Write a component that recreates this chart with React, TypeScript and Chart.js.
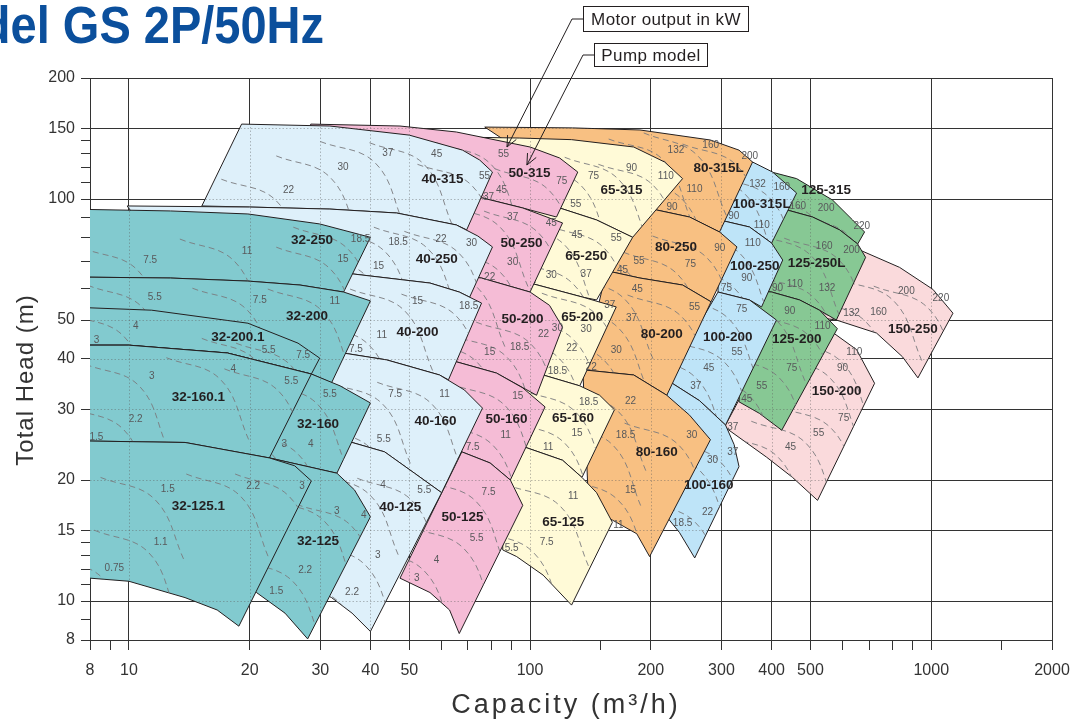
import React, { useEffect, useRef } from 'react';
import { Chart, registerables } from 'chart.js';
Chart.register(...registerables);

type P = [number, number];
type T = [number, number, string];
const FONT = "'Liberation Sans', Arial, Helvetica, sans-serif";

// ---------- axes ----------
const xTickVals = [8, 9, 10, 20, 30, 40, 50, 60, 70, 80, 90, 100, 150, 200, 300, 400, 500, 600, 700, 800, 900, 1000, 1500, 2000];
const xLabelVals = [8, 10, 20, 30, 40, 50, 100, 200, 300, 400, 500, 1000, 2000];
const xGridVals = [10, 20, 30, 40, 50, 100, 200, 300, 400, 500, 1000, 2000];
const yTickVals = [8, 9, 10, 11, 12, 13, 14, 15, 20, 30, 40, 50, 60, 70, 80, 90, 100, 110, 120, 130, 140, 150, 200];
const yLabelVals = [8, 10, 15, 20, 30, 40, 50, 100, 150, 200];

// ---------- colours ----------
const C32 = '#82cacf', C40 = '#def0fa', C50 = '#f5bcd6', C65 = '#fffad7';
const C80 = '#f8c082', C100 = '#bee4f8', C125 = '#87c894', C150 = '#fadadc';

// ---------- pump regions (capacity m3/h, head m) ----------
const r32_250: P[] = [[7,94.4],[12.7,93.4],[19.8,91.8],[29.9,86.7],[40,80.3],[34.3,58.7],[26.7,61.1],[19.8,62.5],[12.7,63.6],[7,64]];
const r32_200: P[] = [[7,64],[12.7,63.6],[19.8,62.5],[26.7,61.1],[34.3,58.7],[40,55.8],[32,34.9],[28.5,36.7],[17.6,41.4],[10,43.3],[7,43.3]];
const r32_200_1: P[] = [[7,53.9],[11.4,52.9],[19.8,49.1],[26.4,43.8],[29.9,40.2],[28.5,36.7],[17.6,41.4],[10,43.3],[7,43.3]];
const r32_160: P[] = [[7,43.3],[10,43.3],[17.6,41.4],[28.5,36.7],[33.6,34.3],[40,31.1],[33,20.8],[22.4,22.7],[15,25],[8,25.3],[7,25.3]];
const r32_160_1: P[] = [[7,43.3],[10,43.3],[17.6,41.4],[28.5,36.7],[22.4,22.7],[13.8,24.8],[8,25],[7,25]];
const r32_125: P[] = [[12,24],[22.4,22.7],[33,20.8],[36.5,18.9],[40,16.2],[27.9,8.05],[24.5,9.33],[20.8,10.5],[16.9,11]];
const r32_125_1: P[] = [[7,25],[8,25],[13.8,24.8],[22.4,22.7],[25.9,21.7],[28.5,19.9],[18.8,8.66],[16.6,9.5],[13.8,10.2],[10,11.2],[8,11.4],[7,11.4]];

const r40_315: P[] = [[19.1,153.6],[31.7,151.9],[50,144.2],[67.9,132.3],[74.9,125],[80.6,116.7],[69.5,83.8],[65.5,86.2],[46.5,92.3],[31.7,94.4],[20,95.5],[15.2,96.1]];
const r40_250: P[] = [[9.9,96.1],[20,95.5],[31.7,94.4],[46.5,92.3],[65.5,86.2],[74.1,80.9],[80.6,76],[70.7,57],[66.6,58.7],[56.3,61.8],[36.2,65.1],[20,67.4],[12.7,68.5]];
const r40_200: P[] = [[12.7,68.5],[20,67.4],[36.2,65.1],[56.3,61.8],[66.6,58.7],[75.7,55.1],[62.6,35.5],[59.5,36.5],[43.9,39.8],[34.2,41.4],[26.7,42.2],[12.7,43]];
const r40_160: P[] = [[26.7,42.2],[34.2,41.4],[43.9,39.8],[59.5,36.5],[68.6,33.5],[76.1,30.2],[60.2,18.6],[51.5,20.8],[43.4,23.5],[36,24.8],[26.7,26.4]];
const r40_125: P[] = [[26.7,26.4],[36,24.8],[43.4,23.5],[51.5,20.8],[60.2,18.6],[40,8.4],[36,9.33],[32,10.2],[26.7,11.2]];

const r50_315: P[] = [[28.4,153.6],[47.4,151.9],[65.5,146.8],[100,134.7],[118.5,126.5],[131.5,116.7],[116.4,90.2],[95.9,95],[76.1,100.6],[56.3,102.9],[26.7,105.3]];
const r50_250: P[] = [[56.3,102.9],[76.1,100.6],[95.9,95],[120.5,87.2],[100,58.7],[75.7,63.6],[56.3,66.3]];
const r50_200: P[] = [[56.3,66.3],[75.7,63.6],[100,58.7],[111.8,54.4],[120.5,48],[103.8,32.5],[82.5,36.9],[63,39.8],[53,40.7]];
const r50_160: P[] = [[53,40.7],[63,39.8],[82.5,36.9],[95.9,33.9],[109,30.4],[89.3,20],[79.5,22.05],[67.6,23.5],[56.3,24.5]];
const r50_125: P[] = [[67.6,23.5],[79.5,22.05],[89.3,20],[95.9,17.3],[66.6,8.3],[63,9.5],[56.3,10.5],[47.4,11.4]];

const r65_315: P[] = [[66.6,142.6],[94.3,141.8],[126.9,140.5],[181.3,134.7],[216.5,123.6],[240,112.4],[180.2,80.3],[146.5,88.7],[118.5,95],[84.8,100.6]];
const r65_250: P[] = [[84.8,100.6],[118.5,95],[146.5,88.7],[180.2,80.3],[146.5,56.1],[135.4,57],[100,61.8],[79.5,64]];
const r65_200: P[] = [[79.5,64],[100,61.8],[135.4,57],[164,53.9],[133,34.3],[107.8,36.5],[84.8,38.7]];
const r65_160: P[] = [[84.8,38.7],[107.8,36.5],[133,34.3],[149.1,32.5],[162.3,29.9],[134.7,20.3],[120.5,22.4],[97.6,24.1],[92,24.3]];
const r65_125: P[] = [[85,25],[97.6,24.1],[120.5,22.4],[134.7,20.3],[146.5,18.6],[160.4,15.7],[126.9,9.77],[107.8,11.6],[92.6,12.9],[85.5,13.4]];

const r80_315L: P[] = [[77.1,151],[127.7,150.3],[187.9,148.5],[281.6,140.2],[331.8,132.3],[358.6,123.6],[296.7,82.8],[249.8,90.2],[206.9,93.9],[149.1,97.7]];
const r80_250: P[] = [[149.1,97.7],[206.9,93.9],[249.8,90.2],[296.7,82.8],[327.9,76],[282.6,55.5],[240,61.1],[187.9,63.6],[155.2,66.3]];
const r80_200: P[] = [[155.2,66.3],[187.9,63.6],[240,61.1],[282.6,55.5],[219.2,32.5],[181.3,36.5],[135.4,37.6]];
const r80_160: P[] = [[135.4,37.6],[181.3,36.5],[219.2,32.5],[249.8,29],[281.6,25.2],[198.6,12.9],[184.5,14.7],[160.4,15.9],[140,17]];

const r100_315L: P[] = [[264.6,133.9],[358.6,123.6],[402.3,116.7],[461.7,103.5],[400,77.7],[352.4,85.2],[296.7,88.7]];
const r100_250: P[] = [[296.7,88.7],[352.4,85.2],[400,77.7],[426.4,70.5],[377.6,53.9],[352.4,56.1],[294.1,58.7]];
const r100_200: P[] = [[294.1,58.7],[352.4,56.1],[411.3,50],[307.1,27.4],[264.6,31.5],[219.2,35.5]];
const r100_160: P[] = [[219.2,35.5],[264.6,31.5],[307.1,27.4],[322.6,24.5],[331.8,21.6],[257.3,12.8],[235.8,14.8],[219.2,16.2]];

const r125_315: P[] = [[400,116.7],[461.7,112.4],[567.7,99.4],[636.8,88.7],[682.1,82.8],[655.7,77.3],[591.1,83.8],[506.1,90.2],[437.5,93.9],[372.9,96.6]];
const r125_250L: P[] = [[372.9,96.6],[437.5,93.9],[506.1,90.2],[591.1,83.8],[655.7,77.3],[686.2,71.6],[580,50],[526.7,52.9],[469.8,56.1],[400,58.7],[342,59.6]];
const r125_200: P[] = [[342,59.6],[400,58.7],[469.8,56.1],[526.7,52.9],[583.4,47.6],[424,26.6],[372.9,29.3],[331.8,31.3]];

const r150_250: P[] = [[526.7,77.7],[663,74.7],[834,67.6],[1009.8,59.6],[1132.9,52],[926.5,35.9],[848,40.5],[730.8,46.4],[580,50],[469.8,51.5]];
const r150_200: P[] = [[342,33.5],[451,48.6],[567.7,46.6],[651.7,42.2],[722.4,34.8],[520.7,17.8],[451.1,20.3],[388.6,22.8],[305.3,27.1]];

// ---------- motor-output iso lines (dashed) ----------
const d32_250: P[][] = [[[7.7,75.4],[10.5,66.6],[12.4,46.5]],[[13.4,79.5],[18.3,70.1],[21.7,49]],[[23.3,75.9],[31.8,66.9],[37.6,46.8]],[[25.7,85.1],[35.2,75],[41.6,52.5]]];
const d32_200: P[][] = [[[7.9,61],[10.8,53.8],[12.8,37.6]],[[14.4,60],[19.7,53],[23.3,37]],[[22.2,59.7],[30.3,52.7],[35.9,36.8]]];
const d32_200_1: P[][] = [[[5.6,47.7],[7.7,42.1],[9.1,29.4]],[[7.1,51.7],[9.7,45.6],[11.4,31.9]],[[15.2,45],[20.7,39.7],[24.5,27.8]],[[18.5,43.8],[25.3,38.6],[29.9,27]]];
const d32_160: P[][] = [[[16.6,26.3],[22.7,23.2],[26.8,16.2]],[[19.3,26.3],[26.4,23.2],[31.2,16.2]],[[21.6,35],[29.5,30.9],[34.9,21.6]]];
const d32_160_1: P[][] = [[[7.1,30.3],[9.7,26.7],[11.4,18.7]],[[5.6,27.4],[7.7,24.2],[9.1,16.9]],[[7.8,38.8],[10.6,34.3],[12.5,24]],[[12.4,40.3],[16.9,35.6],[20,24.9]],[[17.3,37.8],[23.6,33.3],[27.9,23.3]]];
const d32_125: P[][] = [[[15.8,11.3],[21.7,10],[25.6,7]],[[18.7,12.7],[25.6,11.2],[30.3,7.9]],[[22.4,17.9],[30.7,15.8],[36.3,11]],[[26.2,17.4],[35.8,15.4],[42.4,10.8]]];
const d32_125_1: P[][] = [[[6.3,12.9],[8.6,11.4],[10.1,8]],[[8.2,15],[11.2,13.2],[13.2,9.2]],[[8.5,20.3],[11.6,17.9],[13.8,12.5]],[[13.9,20.7],[19,18.2],[22.4,12.7]],[[18.4,20.7],[25.1,18.2],[29.7,12.7]]];

const d40_315: P[][] = [[[17,112],[23.3,99],[27.5,69]],[[23.3,128],[31.8,113],[37.6,79]],[[30,139],[41.1,123],[48.6,86]],[[39.8,138],[54.4,122],[64.4,85]],[[52.4,122],[71.6,108],[84.7,75]]];
const d40_250: P[][] = [[[28.5,73],[39,64.4],[46.1,45]],[[31.9,83.7],[43.6,73.8],[51.6,51.6]],[[40.8,85.1],[55.8,75],[66,52.5]],[[48.6,83.1],[66.5,73.3],[78.7,51.3]]];
const d40_200: P[][] = [[[25,45.4],[34.2,40],[40.5,28]],[[29,49.1],[39.7,43.3],[47,30.3]],[[35.6,59.7],[48.7,52.7],[57.6,36.8]],[[47.8,58],[65.4,51.2],[77.3,35.8]]];
const d40_160: P[][] = [[[29.4,27.1],[40.2,23.9],[47.5,16.7]],[[31.3,35],[42.9,30.9],[50.7,21.6]],[[41.6,35],[56.9,30.9],[67.3,21.6]]];
const d40_125: P[][] = [[[24.5,11.2],[33.5,9.9],[39.6,6.9]],[[28.4,13.9],[38.8,12.3],[45.9,8.6]],[[29.2,20.8],[40,18.3],[47.3,12.8]],[[37.1,20.2],[50.7,17.8],[60,12.5]]];

const d50_315: P[][] = [[[57.7,112],[79,99],[93.4,69]],[[58.4,138],[79.9,122],[94.5,85]],[[81.6,119],[111.6,105],[132,73]]];
const d50_250: P[][] = [[[61.5,74.6],[84.2,65.8],[99.6,46]],[[61.5,96.5],[84.2,85.1],[99.6,59.5]],[[76.8,93.3],[105,82.3],[124,57.6]]];
const d50_200: P[][] = [[[53.9,44.5],[73.7,39.3],[87.2,27.5]],[[64,45.8],[87.6,40.4],[103.6,28.2]],[[73.4,49.4],[100.4,43.6],[118.8,30.5]],[[53.9,68.5],[73.7,60.4],[87.2,42.2]]];
const d50_160: P[][] = [[[48.9,25.8],[66.9,22.8],[79.1,15.9]],[[59.1,27.7],[80.8,24.4],[95.6,17.1]],[[63.4,34.7],[86.7,30.6],[102.5,21.4]]];
const d50_125: P[][] = [[[35.5,12.2],[48.5,10.8],[57.4,7.5]],[[39.8,13.5],[54.4,11.9],[64.4,8.3]],[[50,15.3],[68.4,13.5],[81,9.4]],[[53.6,20],[73.3,17.7],[86.7,12.3]]];

const d65_315: P[][] = [[[88.4,104],[121,91.8],[143,64.2]],[[97.9,122],[134,108],[158,75.2]],[[122,127],[166,112],[197,78.5]],[[148,122],[203,108],[240,75.2]]];
const d65_250: P[][] = [[[76.8,69.2],[105,61.1],[124,42.7]],[[93.8,69.7],[128,61.5],[152,43]],[[89.1,87.1],[122,76.8],[144,53.7]],[[112,85.6],[153,75.5],[180,52.8]]];
const d65_200: P[][] = [[[79.6,39.9],[109,35.2],[129,24.6]],[[86.4,45.6],[118,40.2],[140,28.1]],[[93.8,50.8],[128,44.8],[152,31.4]],[[107,58.3],[147,51.4],[174,36]]];
const d65_160: P[][] = [[[75.5,25.8],[103,22.8],[122,15.9]],[[89.1,28],[122,24.7],[144,17.3]],[[95.2,33.5],[130,29.5],[154,20.7]]];
const d65_125: P[][] = [[[61.2,14.4],[83.7,12.7],[99,8.9]],[[74.8,15],[102,13.2],[121,9.2]],[[87,19.5],[119,17.2],[141,12]]];

const d80_315L: P[][] = [[[154,102],[210,90.2],[249,63]],[[175,113],[239,100],[283,70]],[[157,141],[215,125],[254,87]],[[192,146],[262,128],[310,90]],[[240,137],[328,121],[388,84.5]]];
const d80_250: P[][] = [[[127,75],[174,66.2],[206,46.3]],[[171,73.7],[233,65],[276,45.5]],[[202,80.9],[276,71.4],[327,49.9]]];
const d80_200: P[][] = [[[96.6,40.8],[132,36],[156,25.1]],[[112,45],[153,39.7],[180,27.8]],[[122,54.1],[166,47.8],[197,33.4]],[[126,63.9],[172,56.4],[204,39.4]],[[175,57.7],[239,50.9],[283,35.6]]];
const d80_160: P[][] = [[[113,16.5],[154,14.5],[183,10.2]],[[121,20.2],[166,17.8],[196,12.5]],[[118,27.6],[161,24.4],[190,17]],[[121,33.6],[166,29.6],[196,20.7]],[[172,27.7],[235,24.4],[278,17.1]]];

const d100_315L: P[][] = [[[219,97],[299,85.6],[354,59.9]],[[251,117],[343,103],[406,71.9]],[[288,114],[394,101],[466,70.6]],[[257,92.1],[352,81.3],[416,56.8]]];
const d100_250: P[][] = [[[236,68.1],[323,60],[382,42]],[[244,82.8],[334,73.1],[395,51.1]],[[210,64.2],[287,56.6],[340,39.6]]];
const d100_200: P[][] = [[[229,57],[313,50.3],[371,35.2]],[[223,44.5],[305,39.3],[361,27.5]],[[190,40.7],[259,35.9],[307,25.1]],[[176,36.7],[241,32.4],[285,22.6]]];
const d100_160: P[][] = [[[163,16.7],[223,14.7],[264,10.3]],[[188,17.8],[258,15.7],[305,11]],[[194,24],[265,21.1],[314,14.8]],[[218,25.1],[298,22.2],[352,15.5]]];

const d125_315: P[][] = [[[316,103],[432,90.8],[512,63.5]],[[372,102],[509,89.7],[602,62.7]],[[456,91.7],[624,80.9],[738,56.6]]];
const d125_250L: P[][] = [[[282,64.2],[385,56.6],[455,39.6]],[[311,65.8],[425,58.1],[503,40.6]],[[374,64.2],[512,56.6],[605,39.6]],[[368,81.7],[503,72.1],[595,50.4]],[[430,79.9],[589,70.5],[696,49.3]]];
const d125_200: P[][] = [[[236,34],[323,30],[382,21]],[[257,36.7],[352,32.4],[416,22.6]],[[305,40.7],[418,35.9],[494,25.1]],[[302,56.3],[413,49.7],[488,34.7]],[[364,51.6],[498,45.5],[590,31.8]]];

const d150_250: P[][] = [[[430,55.5],[589,49],[696,34.3]],[[503,56.1],[687,49.5],[813,34.6]],[[590,63.2],[806,55.8],[954,39]],[[719,60.7],[983,53.5],[1163,37.4]]];
const d150_200: P[][] = [[[218,29],[298,25.6],[352,17.9]],[[303,25.8],[415,22.8],[491,15.9]],[[356,28],[487,24.7],[576,17.3]],[[411,30.5],[563,26.9],[666,18.8]],[[409,40.7],[559,35.9],[661,25.1]],[[437,44.5],[598,39.3],[707,27.5]]];

// ---------- motor output labels (kW) ----------
const kw32: T[] = [[11.3,70.5,'7.5'],[19.7,74.3,'11'],[34.2,70.9,'15'],[37.8,79.5,'18.5'],[11.6,57,'5.5'],[21.2,56.1,'7.5'],[32.6,55.8,'11'],[10.4,48.3,'4'],[8.3,44.6,'3'],[22.3,42.1,'5.5'],[27.2,40.9,'7.5'],[11.4,36.3,'3'],[18.2,37.7,'4'],[25.4,35.3,'5.5'],[31.7,32.7,'5.5'],[10.4,28.3,'2.2'],[8.3,25.6,'1.5'],[24.4,24.6,'3'],[28.4,24.6,'4'],[12.5,19,'1.5'],[20.4,19.3,'2.2'],[27,19.3,'3'],[33,16.7,'3'],[38.5,16.3,'4'],[12,14,'1.1'],[9.2,12.1,'0.75'],[27.5,11.9,'2.2'],[23.3,10.6,'1.5']];
const kw40: T[] = [[25,105,'22'],[34.2,120,'30'],[44.2,130,'37'],[58.5,129,'45'],[77,114,'55'],[46.9,78.2,'18.5'],[60,79.5,'22'],[71.5,77.7,'30'],[41.9,68.2,'15'],[52.4,55.8,'15'],[70.3,54.2,'18.5'],[42.7,45.9,'11'],[36.8,42.4,'7.5'],[46.1,32.7,'7.5'],[61.2,32.7,'11'],[43.2,25.3,'5.5'],[43,19.4,'4'],[54.5,18.9,'5.5'],[41.7,13,'3'],[36,10.5,'2.2']];
const kw50: T[] = [[85.9,129,'55'],[120,111,'75'],[84.9,105,'45'],[78.8,101,'37'],[90.5,90.2,'37'],[113,87.2,'45'],[90.5,69.7,'30'],[79.3,64,'22'],[108,46.2,'22'],[117,47.8,'30'],[94.2,42.8,'18.5'],[79.3,41.6,'15'],[93.2,32.4,'15'],[86.9,25.9,'11'],[71.9,24.1,'7.5'],[78.8,18.7,'7.5'],[73.6,14.3,'5.5'],[58.5,12.6,'4'],[52.2,11.4,'3']];
const kw65: T[] = [[144,114,'75'],[179,119,'90'],[218,114,'110'],[130,97.2,'55'],[131,81.4,'45'],[164,80,'55'],[113,64.7,'30'],[138,65.1,'37'],[158,54.5,'37'],[138,47.5,'30'],[127,42.6,'22'],[117,37.3,'18.5'],[140,31.3,'18.5'],[131,26.2,'15'],[111,24.1,'11'],[128,18.2,'11'],[110,14,'7.5'],[90,13.5,'5.5']];
const kw80: T[] = [[231,132,'132'],[282,136,'160'],[353,128,'200'],[257,106,'110'],[226,95.5,'90'],[297,75.6,'90'],[251,68.9,'75'],[187,70.1,'55'],[170,66.5,'45'],[185,59.7,'45'],[257,53.9,'55'],[179,50.6,'37'],[164,42.1,'30'],[142,38.1,'22'],[178,31.4,'22'],[253,25.9,'30'],[173,25.8,'18.5'],[178,18.9,'15'],[166,15.4,'11']];
const kw100: T[] = [[369,109,'132'],[424,107,'160'],[322,90.7,'90'],[378,86.1,'110'],[359,77.4,'110'],[347,63.6,'90'],[309,60,'75'],[337,53.3,'75'],[328,41.6,'55'],[279,38,'45'],[259,34.3,'37'],[320,23.5,'37'],[285,22.4,'30'],[277,16.6,'22'],[240,15.6,'18.5']];
const kw125: T[] = [[465,96.2,'160'],[547,95,'200'],[671,85.7,'220'],[541,76.4,'160'],[633,74.7,'200'],[457,61.5,'110'],[550,60,'132'],[414,60,'90'],[444,52.6,'90'],[536,48.2,'110'],[449,38,'75'],[378,34.3,'55'],[347,31.8,'45']];
const kw150: T[] = [[633,51.9,'132'],[739,52.4,'160'],[867,59.1,'200'],[1057,56.7,'220'],[643,41.6,'110'],[601,38,'90'],[605,28.5,'75'],[524,26.2,'55'],[446,24.1,'45'],[320,27.1,'37']];

// ---------- pump model labels ----------
const modelLabels: T[] = [
  [28.6,79.1,'32-250'],[27.8,51.2,'32-200'],[18.7,45.4,'32-200.1'],[14.9,32.2,'32-160.1'],[29.6,27.6,'32-160'],[14.9,17.2,'32-125.1'],[29.6,14.1,'32-125'],
  [60.5,112,'40-315'],[58.5,70.9,'40-250'],[52.4,46.7,'40-200'],[58.1,28,'40-160'],[47.5,17.1,'40-125'],
  [99.7,116,'50-315'],[95.2,77.8,'50-250'],[95.8,50.3,'50-200'],[87.4,28.4,'50-160'],[67.9,16.2,'50-125'],
  [169,105,'65-315'],[138,72.2,'65-250'],[135,50.9,'65-200'],[128,28.5,'65-160'],[121,15.7,'65-125'],
  [295,119,'80-315L'],[231,76,'80-250'],[213,46.2,'80-200'],[207,23.4,'80-160'],
  [378,97.2,'100-315L'],[363,68.2,'100-250'],[311,45.4,'100-200'],[279,19.4,'100-160'],
  [547,105,'125-315'],[518,69.3,'125-250L'],[462,44.8,'125-200'],
  [900,47.5,'150-250'],[581,33.3,'150-200'],
];

// callout arrow tips (capacity, head)
const motorTip: P = [87.6, 134.7];
const pumpTip: P = [98.2, 121.5];

// draw order: bottom first
const layers: [P[], P[][], string][] = [
  [r150_250, d150_250, C150], [r150_200, d150_200, C150],
  [r125_315, d125_315, C125], [r125_250L, d125_250L, C125], [r125_200, d125_200, C125],
  [r100_315L, d100_315L, C100], [r100_250, d100_250, C100], [r100_200, d100_200, C100], [r100_160, d100_160, C100],
  [r80_315L, d80_315L, C80], [r80_250, d80_250, C80], [r80_200, d80_200, C80], [r80_160, d80_160, C80],
  [r65_315, d65_315, C65], [r65_250, d65_250, C65], [r65_200, d65_200, C65], [r65_160, d65_160, C65], [r65_125, d65_125, C65],
  [r50_315, d50_315, C50], [r50_250, d50_250, C50], [r50_200, d50_200, C50], [r50_160, d50_160, C50], [r50_125, d50_125, C50],
  [r40_315, d40_315, C40], [r40_250, d40_250, C40], [r40_200, d40_200, C40], [r40_160, d40_160, C40], [r40_125, d40_125, C40],
  [r32_250, d32_250, C32], [r32_200, d32_200, C32], [r32_200_1, d32_200_1, C32], [r32_160, d32_160, C32], [r32_160_1, d32_160_1, C32], [r32_125, d32_125, C32], [r32_125_1, d32_125_1, C32],
];
const kwGroups = [kw150, kw125, kw100, kw80, kw65, kw50, kw40, kw32];

function buildDatasets() {
  const ds: any[] = [];
  let seq = 0;
  const N = 5000;
  for (const [poly, dashes, color] of layers) {
    ds.push({
      data: [...poly, poly[0]].map(([x, y]) => ({ x, y })),
      fill: 'shape', backgroundColor: color, borderColor: '#231f20', borderWidth: 1,
      pointRadius: 0, pointHoverRadius: 0, tension: 0, order: N - seq++,
    });
    for (const d of dashes) {
      ds.push({
        data: d.map(([x, y]) => ({ x, y })), fill: false, borderColor: '#7a7b7e', borderWidth: 0.9,
        borderDash: [6, 4], pointRadius: 0, pointHoverRadius: 0, tension: 0.4, clipPoly: poly, order: N - seq++,
      });
    }
  }
  return ds;
}

function polyPath(ctx: CanvasRenderingContext2D, chart: any, poly: P[]) {
  const xs = chart.scales.x, ys = chart.scales.y;
  poly.forEach(([q, h], i) => {
    const px = xs.getPixelForValue(q), py = ys.getPixelForValue(h);
    if (i === 0) ctx.moveTo(px, py); else ctx.lineTo(px, py);
  });
  ctx.closePath();
}

const clipPlugin = {
  id: 'clipPoly',
  beforeDatasetDraw(chart: any, args: any) {
    const ds = chart.data.datasets[args.index];
    if (!ds.clipPoly) return;
    const ctx = chart.ctx;
    ctx.save();
    ctx.beginPath();
    polyPath(ctx, chart, ds.clipPoly);
    ctx.clip();
  },
  afterDatasetDraw(chart: any, args: any) {
    const ds = chart.data.datasets[args.index];
    if (ds.clipPoly) chart.ctx.restore();
  },
};

const overlayPlugin = {
  id: 'overlay',
  afterDatasetsDraw(chart: any) {
    const ctx: CanvasRenderingContext2D = chart.ctx;
    const { left, right, top, bottom } = chart.chartArea;
    const xs = chart.scales.x, ys = chart.scales.y;
    // dotted grid over the coloured areas
    ctx.save();
    ctx.beginPath();
    ctx.rect(left, top, right - left, bottom - top);
    ctx.clip();
    ctx.beginPath();
    for (const [poly] of layers) polyPath(ctx, chart, poly);
    ctx.clip();
    ctx.strokeStyle = 'rgba(90,90,90,0.5)';
    ctx.lineWidth = 0.8;
    ctx.setLineDash([1.5, 2]);
    ctx.beginPath();
    for (const v of xGridVals) { const px = Math.round(xs.getPixelForValue(v)) + 0.5; ctx.moveTo(px, top); ctx.lineTo(px, bottom); }
    for (const v of yLabelVals) { const py = Math.round(ys.getPixelForValue(v)) + 0.5; ctx.moveTo(left, py); ctx.lineTo(right, py); }
    ctx.stroke();
    ctx.restore();

    // kW labels
    ctx.save();
    ctx.beginPath();
    ctx.rect(left, top, right - left, bottom - top);
    ctx.clip();
    ctx.textAlign = 'center';
    ctx.textBaseline = 'middle';
    ctx.fillStyle = '#58595b';
    ctx.font = `10px ${FONT}`;
    for (const g of kwGroups) for (const [q, h, t] of g) ctx.fillText(t, xs.getPixelForValue(q), ys.getPixelForValue(h));
    ctx.fillStyle = '#231f20';
    ctx.font = `bold 13.5px ${FONT}`;
    for (const [q, h, t] of modelLabels) ctx.fillText(t, xs.getPixelForValue(q), ys.getPixelForValue(h));
    ctx.restore();
  },
  afterDraw(chart: any) {
    const ctx: any = chart.ctx;
    const xs = chart.scales.x, ys = chart.scales.y;
    // axis titles
    ctx.save();
    ctx.fillStyle = '#333';
    ctx.textAlign = 'center';
    ctx.textBaseline = 'middle';
    ctx.font = `27px ${FONT}`;
    ctx.letterSpacing = '3px';
    ctx.fillText('Capacity (m³/h)', 566, 706);
    ctx.restore();
    ctx.save();
    ctx.fillStyle = '#333';
    ctx.textAlign = 'center';
    ctx.textBaseline = 'middle';
    ctx.font = `24px ${FONT}`;
    ctx.letterSpacing = '1px';
    ctx.translate(26, 380);
    ctx.rotate(-Math.PI / 2);
    ctx.fillText('Total Head (m)', 0, 0);
    ctx.restore();
    // page title (cut at left edge)
    ctx.save();
    ctx.fillStyle = '#0b4f9c';
    ctx.font = `bold 50px ${FONT}`;
    ctx.textAlign = 'left';
    ctx.textBaseline = 'alphabetic';
    ctx.translate(-86, 43);
    ctx.scale(0.94, 1.05);
    ctx.fillText('Model GS 2P/50Hz', 0, 0);
    ctx.restore();
    // callouts
    const callout = (bx: number, by: number, bw: number, bh: number, text: string, elbowX: number, tip: P) => {
      const tx = xs.getPixelForValue(tip[0]), ty = ys.getPixelForValue(tip[1]);
      const ey = by + bh / 2;
      ctx.save();
      ctx.strokeStyle = '#231f20';
      ctx.lineWidth = 1;
      ctx.fillStyle = '#fff';
      ctx.fillRect(bx, by, bw, bh);
      ctx.strokeRect(bx, by, bw, bh);
      ctx.beginPath();
      ctx.moveTo(bx, ey);
      ctx.lineTo(elbowX, ey);
      ctx.lineTo(tx, ty);
      const ang = Math.atan2(ty - ey, tx - elbowX);
      const L = 12, a = 0.42;
      ctx.moveTo(tx - L * Math.cos(ang - a), ty - L * Math.sin(ang - a));
      ctx.lineTo(tx, ty);
      ctx.lineTo(tx - L * Math.cos(ang + a), ty - L * Math.sin(ang + a));
      ctx.stroke();
      ctx.fillStyle = '#231f20';
      ctx.font = `17px ${FONT}`;
      ctx.letterSpacing = '0.4px';
      ctx.textAlign = 'center';
      ctx.textBaseline = 'middle';
      ctx.fillText(text, bx + bw / 2, ey + 1);
      ctx.restore();
    };
    callout(583.5, 6.5, 165, 25, 'Motor output in kW', 572, motorTip);
    callout(594.5, 43.5, 113, 23, 'Pump model', 583, pumpTip);
  },
};

export default function App() {
  const ref = useRef<HTMLCanvasElement>(null);
  useEffect(() => {
    const canvas = ref.current;
    if (!canvas) return;
    const chart = new Chart(canvas, {
      type: 'line',
      data: { datasets: buildDatasets() },
      options: {
        animation: false,
        responsive: false,
        events: [],
        layout: { padding: { left: 0, right: 21, top: 78, bottom: 0 } },
        plugins: { legend: { display: false }, tooltip: { enabled: false }, title: { display: false } },
        scales: {
          x: {
            type: 'logarithmic', min: 8, max: 2000, position: 'bottom',
            afterBuildTicks: (s: any) => { s.ticks = xTickVals.map((v) => ({ value: v })); },
            afterFit: (s: any) => { s.height = 84; s.paddingLeft = 0; s.paddingRight = 0; },
            ticks: {
              autoSkip: false, maxRotation: 0, minRotation: 0, padding: 11, color: '#333',
              font: { family: FONT, size: 16 },
              callback: (v: any) => (xLabelVals.includes(Number(v)) ? String(v) : ''),
            },
            grid: {
              color: (c: any) => (c.tick && xGridVals.includes(c.tick.value) ? '#333' : 'rgba(0,0,0,0)'),
              tickColor: '#333', tickLength: 10, lineWidth: 1,
            },
            border: { display: true, color: '#333', width: 1 },
          } as any,
          y: {
            type: 'logarithmic', min: 8, max: 200, position: 'left',
            afterBuildTicks: (s: any) => { s.ticks = yTickVals.map((v) => ({ value: v })); },
            afterFit: (s: any) => { s.width = 90; s.paddingTop = 0; s.paddingBottom = 0; },
            ticks: {
              autoSkip: false, padding: 6, color: '#333',
              font: { family: FONT, size: 16 },
              callback: (v: any) => (yLabelVals.includes(Number(v)) ? String(v) : ''),
            },
            grid: {
              color: (c: any) => (c.tick && yLabelVals.includes(c.tick.value) ? '#333' : 'rgba(0,0,0,0)'),
              tickColor: '#333', tickLength: 9, lineWidth: 1,
            },
            border: { display: true, color: '#333', width: 1 },
          } as any,
        },
      },
      plugins: [clipPlugin, overlayPlugin],
    } as any);
    return () => chart.destroy();
  }, []);
  return (
    <div style={{ position: 'fixed', left: 0, top: 0, width: 1073, height: 724, background: '#fff' }}>
      <canvas ref={ref} width={1073} height={724} style={{ display: 'block', width: 1073, height: 724 }} />
    </div>
  );
}
